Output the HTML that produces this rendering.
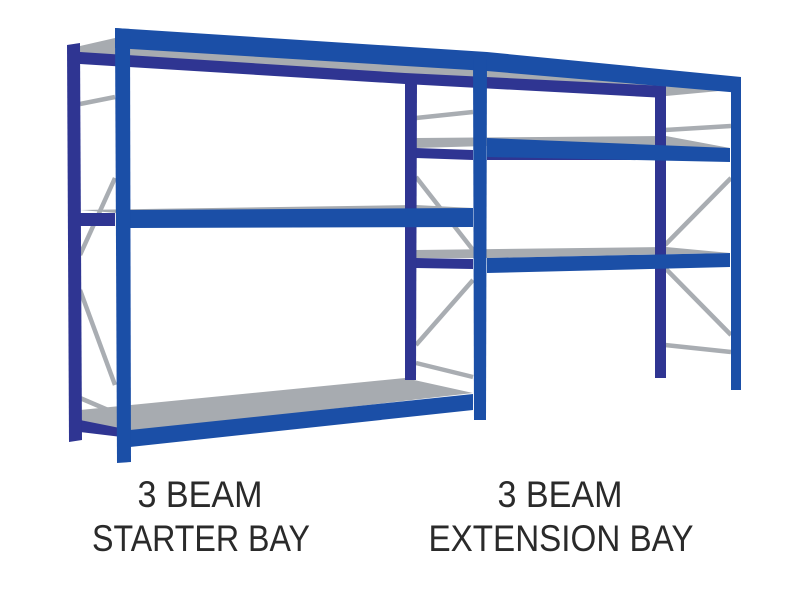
<!DOCTYPE html>
<html><head><meta charset="utf-8"><style>
html,body{margin:0;padding:0;background:#fff;}
svg{display:block}
</style></head><body>
<svg width="800" height="600" viewBox="0 0 800 600" xmlns="http://www.w3.org/2000/svg">
<g stroke="#a9adb2" stroke-width="4.5" fill="none">
  <line x1="80" y1="104" x2="115" y2="97"/>
  <line x1="115" y1="178" x2="80" y2="255"/>
  <line x1="80" y1="290" x2="115" y2="385"/>
  <line x1="80" y1="398" x2="115" y2="413"/>
  <line x1="416" y1="118" x2="473" y2="112"/>
  <line x1="416" y1="177" x2="473" y2="250"/>
  <line x1="416" y1="345" x2="473" y2="280"/>
  <line x1="416" y1="363" x2="473" y2="377"/>
  <line x1="665" y1="130" x2="731" y2="126"/>
  <line x1="665" y1="245" x2="731" y2="178"/>
  <line x1="665" y1="268" x2="731" y2="335"/>
  <line x1="665" y1="345" x2="731" y2="352"/>
</g>
<g fill="#a7abb0">
  <polygon points="80,46 115,38 730,90 666,96 416,80 80,58"/>
  <polygon points="80,210 416,205 473,208 130,214"/>
  <polygon points="416,138 666,136 730,148 487,146 416,148"/>
  <polygon points="416,250 666,247 730,253 487,258 416,258"/>
  <polygon points="80,410 405,378 473,393 130,432 80,420"/>
</g>
<g fill="#2f3592">
  <polygon points="80,52 405,73 666,86 666,98 405,84 80,64"/>
  <polygon points="80,213 115,213 115,226 80,226"/>
  <polygon points="416,148 473,150 473,160 416,158"/>
  <polygon points="487,150 666,152 666,160 487,160"/>
  <polygon points="416,258 473,259 473,269 416,268"/>
  <polygon points="80,420 130,430 130,438 80,432"/>
  <polygon points="67,45 80,43 82,440 69,442"/>
  <polygon points="405,80 417,80 416,380 405,380"/>
  <polygon points="655,88 666,88 666,378 655,378"/>
</g>
<g fill="#1b4fa7">
  <polygon points="115,28 487,52 741,77 741,93 487,71 115,48"/>
  <polygon points="130,210 473,208 473,227 130,228"/>
  <polygon points="487,138 730,148 730,162 487,157"/>
  <polygon points="487,258 730,253 730,267 487,273"/>
  <polygon points="130,430 473,394 473,410 130,447"/>
  <polygon points="115,28 130,29 131,462 117,463"/>
  <polygon points="473,52 487,53 486,420 474,420"/>
  <polygon points="731,78 741,77 741,390 731,390"/>
</g>
<g font-family="Liberation Sans, sans-serif" font-size="37" fill="#2a2a2a" text-anchor="middle">
  <text x="200" y="507" textLength="125" lengthAdjust="spacingAndGlyphs">3 BEAM</text>
  <text x="201" y="551" textLength="218" lengthAdjust="spacingAndGlyphs">STARTER BAY</text>
  <text x="560" y="507" textLength="125" lengthAdjust="spacingAndGlyphs">3 BEAM</text>
  <text x="561" y="551" textLength="265" lengthAdjust="spacingAndGlyphs">EXTENSION BAY</text>
</g>
</svg>
</body></html>
